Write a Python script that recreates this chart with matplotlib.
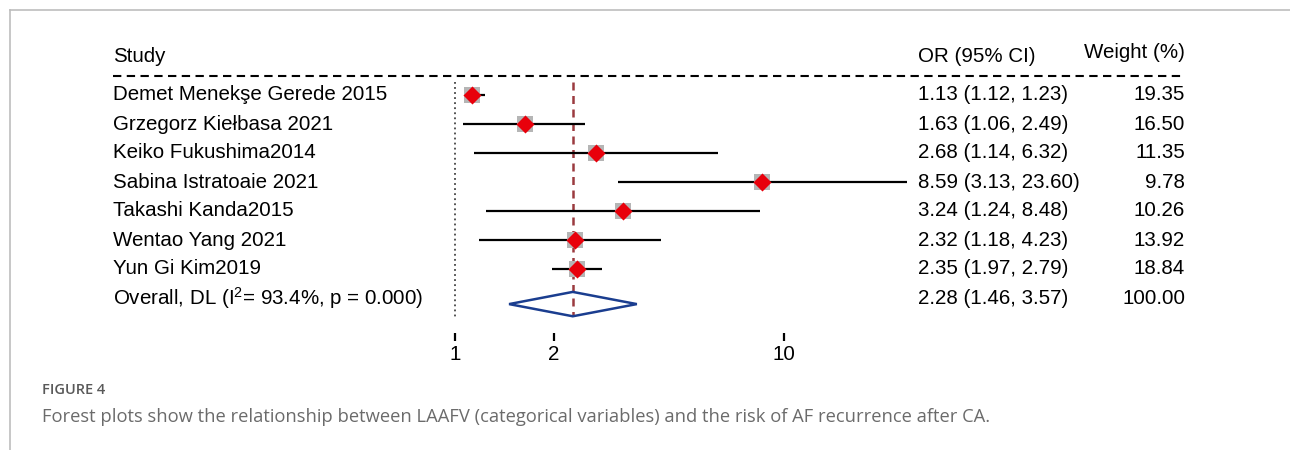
import matplotlib
matplotlib.use("Agg")
import matplotlib.pyplot as plt
import matplotlib.transforms as mtransforms
from matplotlib.patches import Polygon
from matplotlib.lines import Line2D
import numpy as np

plt.rcParams['font.family'] = ['Liberation Sans', 'DejaVu Sans']
plt.rcParams['mathtext.fontset'] = 'custom'
plt.rcParams['mathtext.rm'] = 'Liberation Sans'
plt.rcParams['mathtext.it'] = 'Liberation Sans'

# ---------------- data ----------------
studies = ["Demet Menekşe Gerede 2015", "Grzegorz Kiełbasa 2021", "Keiko Fukushima2014",
           "Sabina Istratoaie 2021", "Takashi Kanda2015", "Wentao Yang 2021", "Yun Gi Kim2019"]
odds = [1.13, 1.63, 2.68, 8.59, 3.24, 2.32, 2.35]
lower = [1.12, 1.06, 1.14, 3.13, 1.24, 1.18, 1.97]
upper = [1.23, 2.49, 6.32, 23.60, 8.48, 4.23, 2.79]
weights = [19.35, 16.50, 11.35, 9.78, 10.26, 13.92, 18.84]
overall_label = "Overall, DL (I$^{2}$= 93.4%, p = 0.000)"
overall_or = 2.28
overall_lo = 1.46
overall_hi = 3.57
overall_weight = 100.00
xticks = [1, 2, 10]
xtick_labels = ["1", "2", "10"]
caption_head = "FIGURE 4"
caption_text = "Forest plots show the relationship between LAAFV (categorical variables) and the risk of AF recurrence after CA."

# ---------------- figure ----------------
W, H = 1290, 450
fig = plt.figure(figsize=(W / 100, H / 100), dpi=100)

# page border lines
fig.add_artist(Line2D([10 / W, 1.0], [1 - 10 / H, 1 - 10 / H], color="#bdbdbd", lw=1.2))
fig.add_artist(Line2D([10 / W, 10 / W], [0, 1 - 10 / H], color="#bdbdbd", lw=1.2))

# axes placement: pixel x = 455 + 329*log10(v) ; row y = 95 + 29*i
ax_left, ax_right = 100, 1200
ax_top, ax_bot = 20, 337
ax = fig.add_axes([ax_left / W, 1 - ax_bot / H, (ax_right - ax_left) / W, (ax_bot - ax_top) / H])
ax.set_xscale("log")
ax.set_xlim(10 ** ((ax_left - 455) / 329), 10 ** ((ax_right - 455) / 329))
ax.set_ylim((ax_bot - 95) / 29, (ax_top - 95) / 29)
for s in ax.spines.values():
    s.set_visible(False)
ax.set_yticks([])
ax.set_xticks(xticks)
ax.set_xticklabels(xtick_labels)
ax.xaxis.set_minor_locator(matplotlib.ticker.NullLocator())
ax.tick_params(axis="x", direction="inout", length=6, width=1.6, pad=3, labelsize=14.8, color="black")
ax.patch.set_visible(False)

n = len(studies)
rows = np.arange(n)
overall_row = n

# null line (dotted) at OR = 1
ax.plot([1, 1], [-0.45, 7.69], color="#444444", lw=1.3, ls=(0, (1, 1.8)))
# overall effect dashed line
ax.plot([overall_or, overall_or], [-0.45, 7.59], color="#9b3a3f", lw=1.8, ls=(0, (3.2, 2.2)))

# CI lines
for i in rows:
    ax.plot([lower[i], upper[i]], [i, i], color="black", lw=1.6, solid_capstyle="butt", zorder=3)
# weight squares
ax.scatter(odds, rows, marker="s", s=11.5 ** 2, color="#b5b5b5", zorder=4, linewidths=0)
# point estimates
ax.scatter(odds, rows, marker="D", s=9.2 ** 2, color="#e8000b", zorder=5, linewidths=0)

# overall diamond
dy = 0.42
yc = overall_row + 0.21
diamond = Polygon([[overall_lo, yc], [overall_or, yc - dy], [overall_hi, yc], [overall_or, yc + dy]],
                  closed=True, fill=False, edgecolor="#1a3d8f", lw=1.8, zorder=5)
ax.add_patch(diamond)

# ---------------- text columns ----------------
tr = mtransforms.blended_transform_factory(fig.transFigure, ax.transData)
fs = 14.8
x_study = 113 / W
x_or = 918 / W
x_w = 1185 / W

ax.text(x_study, (57 - 95) / 29, "Study", transform=tr, fontsize=fs, va="center", ha="left")
ax.text(x_or, (57 - 95) / 29, "OR (95% CI)", transform=tr, fontsize=fs, va="center", ha="left")
ax.text(x_w, (52 - 95) / 29, "Weight (%)", transform=tr, fontsize=fs, va="center", ha="right")
ax.plot([x_study, x_w], [(76 - 95) / 29] * 2, transform=tr, color="black", lw=1.5, ls=(0, (4, 2.6)), clip_on=False)

for i in rows:
    ax.text(x_study, i, studies[i], transform=tr, fontsize=fs, va="center", ha="left")
    ax.text(x_or, i, f"{odds[i]:.2f} ({lower[i]:.2f}, {upper[i]:.2f})", transform=tr, fontsize=fs, va="center", ha="left")
    ax.text(x_w, i, f"{weights[i]:.2f}", transform=tr, fontsize=fs, va="center", ha="right")

ax.text(x_study, overall_row, overall_label, transform=tr, fontsize=fs, va="center", ha="left")
ax.text(x_or, overall_row, f"{overall_or:.2f} ({overall_lo:.2f}, {overall_hi:.2f})", transform=tr, fontsize=fs, va="center", ha="left")
ax.text(x_w, overall_row, f"{overall_weight:.2f}", transform=tr, fontsize=fs, va="center", ha="right")

# ---------------- caption ----------------
fig.text(42 / W, 1 - 390 / H, caption_head, fontsize=10.5, fontweight="semibold", color="#595959",
         family=["Open Sans", "DejaVu Sans"], va="center", ha="left")
fig.text(42 / W, 1 - 417 / H, caption_text, fontsize=13.2, color="#6b6b6b",
         family=["Open Sans", "DejaVu Sans"], va="center", ha="left")

fig.savefig("out.png", dpi=100)
